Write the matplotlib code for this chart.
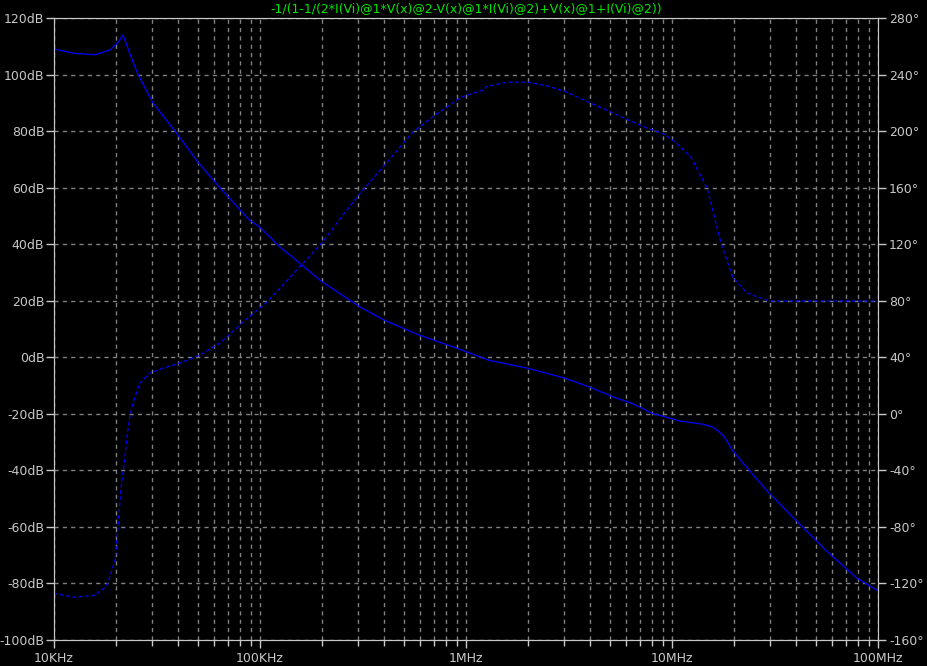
import matplotlib
matplotlib.use("Agg")
import matplotlib.pyplot as plt
import numpy as np

# magnitude (solid) and phase (dashed)
freq_mag = np.array([1e4, 12.6e3, 15.8e3, 18.7e3, 20.5e3, 21.6e3, 24.7e3, 25.6e3, 30.2e3,
                     40e3, 50e3, 63.8e3, 69e3, 89e3, 100e3, 125e3, 160e3, 200e3, 306e3,
                     396e3, 596e3, 903e3, 1.3e6, 2.0e6, 3.03e6, 4.0e6, 5.17e6, 6.4e6,
                     8.0e6, 11.0e6, 14.2e6, 15.8e6, 17.0e6, 17.9e6, 19.7e6, 23.7e6,
                     29.6e6, 40e6, 55.9e6, 78.6e6, 100e6])
mag_db = np.array([109, 107.5, 107, 108.7, 111.5, 114, 102.7, 100, 90,
                   78.6, 69, 60, 57.3, 48.5, 46, 39, 32.6, 26.7, 17.8,
                   13.3, 7.8, 3.2, -1.1, -3.9, -7.4, -10.6, -14, -16.3,
                   -19.8, -22.6, -23.7, -24.7, -26.5, -28, -33, -40,
                   -48, -57.7, -68.3, -78, -82.6])

freq_ph = np.array([1e4, 12.6e3, 15.8e3, 16.2e3, 17.7e3, 18.3e3, 19.1e3, 19.8e3, 20.4e3,
                    21.1e3, 22.1e3, 22.6e3, 23.4e3, 24.2e3, 24.7e3, 26.1e3, 29.2e3,
                    33.8e3, 40.9e3, 51.1e3, 63.8e3, 87.1e3, 108e3, 156e3, 200e3, 253e3,
                    306e3, 396e3, 550e3, 688e3, 903e3, 966e3, 1.21e6, 1.26e6, 1.58e6,
                    2.0e6, 2.47e6, 3.03e6, 4.0e6, 5.0e6, 6.0e6, 7.6e6, 9.1e6, 10.3e6,
                    12.3e6, 14.8e6, 17.4e6, 19.7e6, 23.1e6, 29.6e6, 100e6])
phase_deg = np.array([-127, -129.8, -128.4, -127, -122.7, -119, -110.7, -103.6, -82,
                      -54, -30.4, -16.3, -0.9, 7.6, 11.8, 21.7, 28.8,
                      32.3, 35.9, 41.6, 50, 67.7, 79, 104, 121, 140.7,
                      156, 174.7, 199, 210, 222, 224.4, 229, 231.5, 234.6,
                      234.6, 232, 228, 220, 213.8, 208.4, 202, 198, 192.6,
                      182, 159.8, 119.4, 96.8, 85.5, 79.8, 79.8])

db_ticks = list(range(-100, 121, 20))
deg_ticks = list(range(-160, 281, 40))
x_ticks = [1e4, 1e5, 1e6, 1e7, 1e8]
x_labels = ["10KHz", "100KHz", "1MHz", "10MHz", "100MHz"]
title = "-1/(1-1/(2*I(Vi)@1*V(x)@2-V(x)@1*I(Vi)@2)+V(x)@1+I(Vi)@2))"

fg = "#c8c8c8"
fig = plt.figure(figsize=(9.27, 6.66), dpi=100, facecolor="black")
ax = fig.add_axes([54/927, 1-640/666, (878-54)/927, (640-18)/666])
ax.set_facecolor("black")
ax.set_xscale("log")
ax.set_xlim(1e4, 1e8)
ax.set_ylim(-100, 120)

ax.plot(freq_mag, mag_db, color="#0000ff", lw=0.9)

ax.set_yticks(db_ticks)
ax.set_yticklabels([f"{v}dB" for v in db_ticks])
ax.set_xticks(x_ticks)
ax.set_xticklabels(x_labels)
ax.grid(True, which="both", axis="x", color="#808080", ls=(0, (3, 3)), lw=1.0)
ax.grid(True, which="major", axis="y", color="#808080", ls=(0, (3, 3)), lw=1.0)
ax.tick_params(colors=fg, labelsize=9, length=6, width=1, pad=1)
ax.tick_params(axis="x", which="minor", colors=fg, length=4, width=1)
ax.tick_params(axis="x", pad=3)
for s in ax.spines.values():
    s.set_color(fg)

ax2 = ax.twinx()
ax2.set_ylim(-160, 280)
ax2.plot(freq_ph, phase_deg, color="#0000ff", lw=0.9, ls=(0, (3, 2)))
ax2.set_yticks(deg_ticks)
ax2.set_yticklabels([f"{v}°" for v in deg_ticks])
ax2.tick_params(colors=fg, labelsize=9, length=6, width=1, pad=2)
for s in ax2.spines.values():
    s.set_color(fg)

fig.text(466/927, 1-9/666, title, color="#00e600", fontsize=9,
         ha="center", va="center")

fig.savefig("out.png", dpi=100, facecolor="black")
